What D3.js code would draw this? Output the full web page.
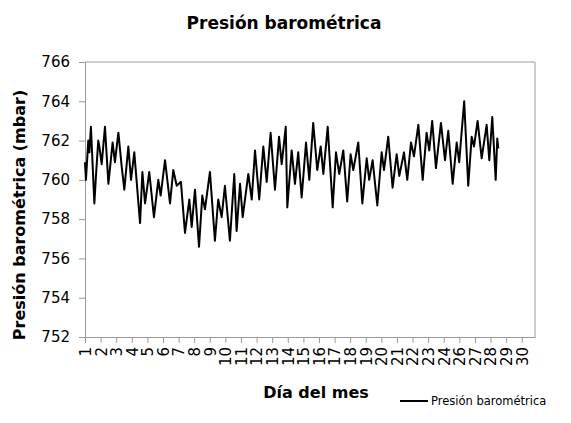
<!DOCTYPE html>
<html>
<head>
<meta charset="utf-8">
<script src="https://cdn.jsdelivr.net/npm/d3@7"></script>
<style>
  html, body { margin: 0; padding: 0; background: #fff; }
  svg { display: block; }
</style>
</head>
<body>
<svg id="chart" width="571" height="423"></svg>
<script>
// ---- Data ----
const chartTitle = "Presión barométrica";
const yTitle = "Presión barométrica (mbar)";
const xTitle = "Día del mes";
const seriesName = "Presión barométrica";

// tick labels along the category axis (as printed in the original)
const dayLabels = ["1","2","3","4","5","6","7","8","9","10","11","12","13","14","15","16","17","18","19","20","21","22","23","24","26","27","28","29","30"];
const yTicks = [752, 754, 756, 758, 760, 762, 764, 766];

// elapsed time (days from first reading) and pressure (mbar)
const elapsedDays = [
  0.00,0.06,0.21,0.28,0.38,0.60,0.71,0.85,0.92,1.07,1.28,1.50,1.77,1.92,2.14,2.35,2.52,2.78,2.95,3.16,
  3.53,3.68,3.85,4.12,4.42,4.70,4.85,5.13,5.45,5.66,5.88,6.15,6.41,6.69,6.84,7.05,7.31,7.52,7.69,8.01,
  8.33,8.54,8.76,8.97,9.29,9.57,9.72,9.94,10.11,10.47,10.69,10.90,11.17,11.43,11.65,11.90,12.18,12.44,12.61,12.87,
  12.97,13.25,13.46,13.67,13.89,14.17,14.38,14.63,14.89,15.11,15.28,15.56,15.88,16.09,16.30,16.56,16.81,17.03,17.20,17.52,
  17.78,18.06,18.22,18.44,18.74,19.02,19.17,19.44,19.72,19.98,20.15,20.45,20.66,20.90,21.09,21.37,21.65,21.90,22.07,22.26,
  22.50,22.82,23.08,23.29,23.57,23.83,23.99,24.31,24.57,24.79,24.94,25.17,25.43,25.75,25.92,26.11,26.33,26.43,26.50
];
const pressure = [
  760.9,760.0,762.0,761.4,762.7,758.8,760.3,762.0,761.7,760.8,762.7,759.8,761.9,760.9,762.4,760.7,759.5,761.7,760.0,761.4,
  757.8,760.4,758.8,760.4,758.1,760.0,759.2,761.0,758.8,760.5,759.7,759.9,757.3,759.0,757.6,759.5,756.6,759.2,758.5,760.4,
  756.9,759.0,758.1,759.7,756.9,760.3,757.4,759.8,758.1,760.3,759.0,761.5,759.0,761.7,759.9,762.4,759.5,762.2,760.8,762.7,
  758.6,761.5,759.8,761.4,759.1,761.9,760.0,762.9,760.5,761.7,760.3,762.7,758.6,761.4,760.3,761.5,758.9,761.3,760.5,761.9,
  758.8,761.1,760.0,761.0,758.7,761.4,760.5,762.2,759.6,761.3,760.2,761.4,760.0,761.9,761.2,762.8,760.0,762.4,761.5,763.0,
  760.6,762.9,761.0,762.5,759.8,761.9,760.9,764.0,759.7,762.2,761.7,763.0,761.1,762.8,761.0,763.2,760.0,762.1,761.6
];

// ---- Layout ----
const svg = d3.select("#chart");
const plot = { left: 85, right: 535, top: 62, bottom: 337 };
const axisColor = "#9a9a9a";
const fontFamily = "Tahoma, 'DejaVu Sans', 'Liberation Sans', sans-serif";

const x = d3.scaleLinear().domain([0, 28.85]).range([plot.left, plot.right]);
const y = d3.scaleLinear().domain([752, 766]).range([plot.bottom, plot.top]);

// plot frame (top and right)
svg.append("path")
  .attr("d", `M${plot.left},${plot.top}H${plot.right}V${plot.bottom}`)
  .attr("fill", "none").attr("stroke", axisColor).attr("stroke-width", 1);

// y axis
const yAxis = d3.axisLeft(y).tickValues(yTicks).tickSize(6).tickPadding(9).tickFormat(d3.format("d"));
const gy = svg.append("g").attr("transform", `translate(${plot.left},0)`).call(yAxis);
gy.select(".domain").attr("stroke", axisColor);
gy.selectAll(".tick line").attr("stroke", axisColor);
gy.selectAll(".tick text").attr("font-family", fontFamily).attr("font-size", 15).attr("fill", "#000");

// x axis
const xAxis = d3.axisBottom(x).tickValues(d3.range(dayLabels.length))
  .tickFormat((d, i) => dayLabels[i]).tickSize(6).tickSizeOuter(0);
const gx = svg.append("g").attr("transform", `translate(0,${plot.bottom})`).call(xAxis);
gx.select(".domain").attr("stroke", axisColor);
gx.selectAll(".tick line").attr("stroke", axisColor);
gx.selectAll(".tick text")
  .attr("font-family", fontFamily).attr("font-size", 15).attr("fill", "#000")
  .attr("transform", "rotate(-90)")
  .attr("text-anchor", "end")
  .attr("x", -10).attr("y", 0).attr("dy", "0.36em");

// line
const points = elapsedDays.map((t, i) => [t, pressure[i]]);
svg.append("path")
  .datum(points)
  .attr("fill", "none")
  .attr("stroke", "#000")
  .attr("stroke-width", 2)
  .attr("stroke-linejoin", "round")
  .attr("d", d3.line().x(d => x(d[0])).y(d => y(d[1])));

// titles
svg.append("text").attr("x", 284).attr("y", 29).attr("text-anchor", "middle")
  .attr("font-family", fontFamily).attr("font-weight", "bold").attr("font-size", 17)
  .text(chartTitle);

svg.append("text").attr("transform", "translate(25,215) rotate(-90)").attr("text-anchor", "middle")
  .attr("font-family", fontFamily).attr("font-weight", "bold").attr("font-size", 16)
  .text(yTitle);

svg.append("text").attr("x", 316).attr("y", 398).attr("text-anchor", "middle")
  .attr("font-family", fontFamily).attr("font-weight", "bold").attr("font-size", 16)
  .text(xTitle);

// legend
const legend = svg.append("g").attr("transform", "translate(400,401)");
legend.append("line").attr("x1", 0).attr("x2", 28).attr("y1", 0).attr("y2", 0)
  .attr("stroke", "#000").attr("stroke-width", 2);
legend.append("text").attr("x", 31).attr("y", 0).attr("dy", "0.35em")
  .attr("font-family", fontFamily).attr("font-size", 11.5)
  .text(seriesName);
</script>
</body>
</html>
